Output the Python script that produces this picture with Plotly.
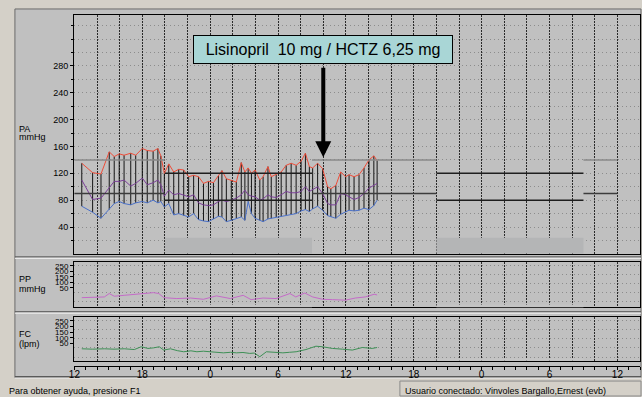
import plotly.graph_objects as go

# ---------------- data (time = hours after 12:00 of day 1) ----------------
hours = [0.65, 1.61, 2.35, 3.08, 3.52, 3.96, 4.39, 4.98, 5.42, 6.00,
         6.44, 6.96, 7.38, 7.64, 7.95, 8.34, 8.78, 9.22, 9.66, 10.10,
         10.54, 10.97, 11.41, 11.85, 12.29, 12.73, 13.04, 13.43, 13.87, 14.31,
         14.75, 15.07, 15.36, 15.65, 15.97, 16.39, 16.68, 17.11, 17.40, 17.84,
         18.28, 18.72, 19.16, 19.60, 20.04, 20.42, 20.77, 21.06, 21.50, 21.94,
         22.38, 22.67, 23.11, 23.54, 23.98, 24.28, 24.72, 25.16, 25.60, 26.04,
         26.47, 26.76]
systolic = [135, 121, 119, 152, 145, 149, 147, 150, 147, 157,
            154, 153, 157, 146, 120, 134, 122, 126, 125, 115,
            117, 115, 105, 108, 106, 116, 124, 112, 110, 107,
            136, 122, 128, 120, 125, 110, 115, 130, 115, 118,
            122, 132, 135, 132, 138, 150, 130, 128, 135, 127,
            100, 97, 102, 122, 115, 118, 115, 118, 128, 140,
            146, 139]
diastolic = [71, 62, 53, 66, 75, 78, 75, 73, 76, 78,
             76, 80, 76, 78, 70, 75, 58, 60, 57, 55,
             60, 51, 49, 48, 52, 56, 55, 48, 50, 53,
             55, 50, 78, 60, 53, 50, 48, 52, 53, 55,
             56, 58, 59, 60, 64, 66, 63, 67, 71, 65,
             57, 55, 53, 59, 63, 65, 64, 65, 68, 66,
             72, 80]
mean_bp = [110, 81, 83, 98, 108, 108, 110, 101, 105, 113,
           103, 106, 110, 103, 86, 95, 88, 90, 87, 85,
           88, 76, 73, 72, 73, 78, 80, 78, 80, 83,
           88, 95, 88, 86, 85, 80, 82, 88, 85, 84,
           88, 93, 91, 91, 93, 100, 93, 96, 100, 90,
           75, 73, 73, 90, 88, 85, 81, 84, 90, 98,
           102, 105]

pp_hours = [0.65, 1.60, 2.65, 3.08, 3.52, 4.40, 5.27, 6.15, 7.00, 7.46,
            7.90, 9.05, 10.27, 11.41, 12.55, 13.78, 14.92, 15.62, 16.68, 17.82,
            19.05, 19.57, 20.36, 21.06, 21.94, 22.81, 23.96, 24.83, 25.71, 26.50,
            26.76]
pulse_pressure = [70, 70, 74, 93, 78, 83, 87, 93, 98, 93,
                  70, 65, 68, 61, 80, 65, 83, 59, 68, 65,
                  93, 74, 96, 74, 61, 59, 56, 68, 74, 89,
                  85]

hr_hours = [0.65, 1.60, 2.65, 3.50, 4.40, 5.30, 5.90, 6.50, 7.00, 7.50,
            7.90, 8.49, 9.10, 9.66, 10.30, 10.83, 11.40, 12.00, 12.60, 13.17,
            13.80, 14.33, 14.90, 15.50, 15.90, 16.39, 16.97, 17.70, 18.43, 19.00,
            19.60, 20.47, 21.35, 21.94, 22.80, 23.69, 24.57, 25.45, 26.32, 26.76]
heart_rate = [95, 93, 95, 93, 95, 91, 106, 97, 100, 106,
              88, 95, 85, 79, 84, 79, 82, 79, 76, 73,
              76, 73, 75, 70, 72, 52, 79, 75, 73, 76,
              79, 91, 109, 106, 97, 93, 88, 102, 97, 102]

x_tick_hours = [0, 6, 12, 18, 24, 30, 36, 42, 48]
x_tick_text = ["12", "18", "0", "6", "12", "18", "0", "6", "12"]
pa_ticks = [40, 80, 120, 160, 200, 240, 280]
pa_minor = [20, 60, 100, 140, 180, 220, 260, 300, 320, 340]
small_grid = [50, 100, 150, 200, 250]
small_tick_text = ["250", "200", "150", "100", "50"]

night_periods = [(8, 21), (32, 45)]
day_periods = [(0, 8), (21, 32), (45, 48)]
day_limits = (140, 90)
night_limits = (120, 80)
night_band_top = 24

drug_label = "Lisinopril  10 mg / HCTZ 6,25 mg"
drug_time = 22
drug_arrow_y = 144

status_left = "Para obtener ayuda, presione F1"
status_right = "Usuario conectado: Vinvoles Bargallo,Ernest (evb)"

# ---------------- helpers ----------------
W, H = 642, 397
def px(x): return x / W
def py(y): return 1 - y / H

FONT = "Arial, Liberation Sans, sans-serif"
tickfont = dict(family=FONT, size=9, color="black")
smallfont = dict(family=FONT, size=8, color="black")
hgrid_color = "#8c8c8c"
hdash = "1px,3px"

fig = go.Figure()

# night band in the BP panel (filled area drawn on the BP axes)
for a, b in night_periods:
    fig.add_trace(go.Scatter(x=[a, b, b, a, a], y=[0, 0, night_band_top, night_band_top, 0],
                             mode="lines", fill="toself", fillcolor="#b4b5b6",
                             line=dict(width=0), hoverinfo="skip"))

# measurement bars (diastolic -> systolic)
bx, by = [], []
for t, s, d in zip(hours, systolic, diastolic):
    bx += [t, t, None]
    by += [d, s, None]
fig.add_trace(go.Scatter(x=bx, y=by, mode="lines", line=dict(color="#151515", width=1),
                         hoverinfo="skip"))
fig.add_trace(go.Scatter(x=hours, y=mean_bp, mode="lines", line=dict(color="#7b3f98", width=1)))
fig.add_trace(go.Scatter(x=hours, y=diastolic, mode="lines", line=dict(color="#4a70c8", width=1)))
fig.add_trace(go.Scatter(x=hours, y=systolic, mode="lines", line=dict(color="#ef4c38", width=1)))
fig.add_trace(go.Scatter(x=pp_hours, y=pulse_pressure, xaxis="x2", yaxis="y2", mode="lines",
                         line=dict(color="#c46ac8", width=1)))
fig.add_trace(go.Scatter(x=hr_hours, y=heart_rate, xaxis="x3", yaxis="y3", mode="lines",
                         line=dict(color="#3d8f55", width=1)))
fig.add_trace(go.Scatter(x=[None], y=[None], xaxis="x4", yaxis="y4"))

XDOM = [px(69.5), px(640)]
XRANGE = [-0.04, 50.0]
frame = dict(showline=True, mirror=True, linecolor="black", linewidth=1, zeroline=False)
vgrid = dict(showgrid=True, gridcolor="#2a2a2a", griddash="2px,1px", gridwidth=1,
             tickmode="linear", tick0=0, dtick=2, ticks="", showticklabels=False, layer="above traces")

def small_y(dom, rng):
    return dict(domain=dom, range=rng, tickmode="array",
                tickvals=[247, 216, 186, 155, 124], ticktext=small_tick_text,
                ticks="outside", ticklen=3, tickcolor="black", tickfont=smallfont,
                showgrid=False,
                minor=dict(tickmode="array", tickvals=small_grid, ticks="", showgrid=True,
                           gridcolor=hgrid_color, griddash=hdash, gridwidth=1),
                **frame)

fig.update_layout(
    width=W, height=H, autosize=False,
    margin=dict(l=0, r=0, t=0, b=0),
    paper_bgcolor="#d4d0c8", plot_bgcolor="white",
    showlegend=False,
    xaxis=dict(domain=XDOM, range=XRANGE, anchor="y", **vgrid, **frame),
    xaxis2=dict(domain=XDOM, range=XRANGE, anchor="y2", matches="x", **vgrid, **frame),
    xaxis3=dict(domain=XDOM, range=XRANGE, anchor="y3", matches="x", **vgrid, **frame),
    xaxis4=dict(domain=XDOM, range=XRANGE, anchor="y4", matches="x", tickmode="array",
                tickvals=x_tick_hours, ticktext=x_tick_text, ticks="outside", ticklen=3,
                ticklabelstandoff=-4,
                tickcolor="black", tickfont=dict(family=FONT, size=10, color="black"),
                showline=True, linecolor="black", showgrid=False, zeroline=False,
                minor=dict(tickmode="linear", tick0=0, dtick=1, ticks="outside", ticklen=3,
                           tickcolor="black")),
    yaxis=dict(domain=[py(253.5), py(14)], range=[0, 356], tickmode="array", tickvals=pa_ticks,
               ticks="outside", ticklen=3, tickcolor="black", tickfont=tickfont,
               showgrid=True, gridcolor=hgrid_color, griddash=hdash, gridwidth=1,
               minor=dict(tickmode="array", tickvals=pa_minor, ticks="outside", ticklen=2,
                          tickcolor="black", showgrid=True, gridcolor=hgrid_color,
                          griddash=hdash, gridwidth=1),
               **frame),
    yaxis2=small_y([py(307), py(262)], [16.7, 266.7]),
    yaxis3=small_y([py(360.7), py(316.7)], [30, 267.8]),
    yaxis4=dict(domain=[py(365.5), py(364.5)], range=[0, 1], visible=False),
)

shapes = []
# window frame and panel separators
shapes.append(dict(type="rect", xref="paper", yref="paper", x0=px(10), x1=px(641),
                   y0=py(377.5), y1=py(8), fillcolor="#c0c0c0",
                   line=dict(color="#6a6a6a", width=1), layer="below"))
for yy in (256.5, 311.5, 376.5):
    shapes.append(dict(type="line", xref="paper", yref="paper", x0=px(10), x1=px(641),
                       y0=py(yy), y1=py(yy), line=dict(color="#555555", width=1), layer="below"))
    shapes.append(dict(type="line", xref="paper", yref="paper", x0=px(10), x1=px(641),
                       y0=py(yy + 1.5), y1=py(yy + 1.5), line=dict(color="#f0f0f0", width=1),
                       layer="below"))
# status bar panel
shapes.append(dict(type="rect", xref="paper", yref="paper", x0=px(398), x1=px(641),
                   y0=py(396), y1=py(381), line=dict(color="#8a8a8a", width=1), layer="below"))

# night strips in the small panels and reference limits
for a, b in night_periods:
    for ax_ in ("2", "3"):
        shapes.append(dict(type="rect", xref="x" + ax_, yref="y" + ax_ + " domain", x0=a, x1=b,
                           y0=0, y1=0.06, fillcolor="#c4c4c4", opacity=1,
                           line=dict(width=0), layer="above"))
    for lim in night_limits:
        shapes.append(dict(type="line", xref="x", yref="y", x0=a, x1=b, y0=lim, y1=lim,
                           line=dict(color="#1e1e1e", width=1.5)))
for a, b in day_periods:
    shapes.append(dict(type="line", xref="x", yref="y", x0=a, x1=b, y0=day_limits[0],
                       y1=day_limits[0], line=dict(color="#8a8a8a", width=1.5)))
    shapes.append(dict(type="line", xref="x", yref="y", x0=a, x1=b, y0=day_limits[1],
                       y1=day_limits[1], line=dict(color="#3c3c3c", width=1.5)))
fig.update_layout(shapes=shapes)

ann = []
def label(text, x, y, size=9):
    ann.append(dict(text=text, x=px(x), y=py(y), xref="paper", yref="paper", showarrow=False,
                    xanchor="left", yanchor="middle", font=dict(family=FONT, size=size,
                                                                 color="black")))
label("PA", 12, 128.4)
label("mmHg", 12, 136.7)
label("PP", 12, 278.3)
label("mmHg", 12, 288.7)
label("FC", 12, 333.5)
label("(lpm)", 12, 344.2)
label(status_left, 2, 391)
label(status_right, 401, 391)

ann.append(dict(text=drug_label, x=px(320.5), y=py(48.4), xref="paper", yref="paper",
                showarrow=False, xanchor="center", yanchor="middle",
                font=dict(family=FONT, size=16, color="black"),
                bgcolor="#a9d6d6", bordercolor="black", borderwidth=1, borderpad=1,
                width=256, height=25))
ann.append(dict(text="", x=drug_time, y=drug_arrow_y, xref="x", yref="y", showarrow=True,
                ax=0, ay=-91, arrowhead=2, arrowwidth=4, arrowsize=0.8, arrowcolor="black"))
fig.update_layout(annotations=ann)

fig.write_html("out.html", config={"displayModeBar": False},
               post_script="document.body.style.margin='0';document.body.style.overflow='hidden';")
